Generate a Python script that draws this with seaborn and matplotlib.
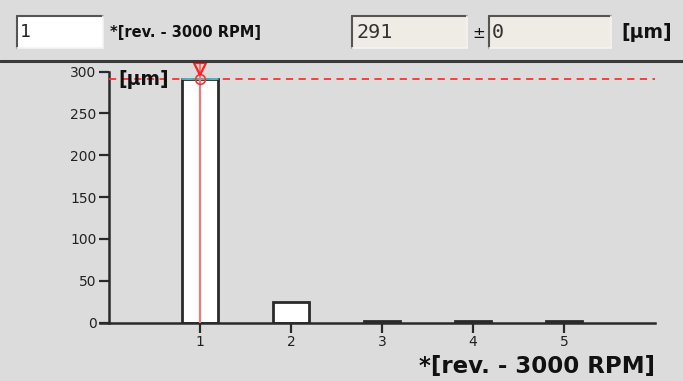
import matplotlib
matplotlib.use("Agg")
import matplotlib.pyplot as plt
import seaborn as sns
import pandas as pd
from matplotlib.patches import Rectangle
from matplotlib.lines import Line2D

# ---- data ----
revolutions = [1, 2, 3, 4, 5]
thickness = [291, 24, 1.5, 1.5, 1.5]
y_ticks = [0, 50, 100, 150, 200, 250, 300]
x_ticks = [1, 2, 3, 4, 5]
selected_rev = 1
selected_value = 291
selected_err = 0
x_label = "*[rev. - 3000 RPM]"
y_unit = "[µm]"

sns.set_theme(style="white")
plt.rcParams['font.family'] = ['DejaVu Sans']

BG = "#dcdcdc"
W, H = 683, 381
fig = plt.figure(figsize=(W / 100, H / 100), dpi=100, facecolor=BG)

def fx(px):
    return px / W

def fy(py):
    return 1 - py / H

# ---- top panel ----
def box(x0, y0, x1, y1, fill):
    fig.patches.append(Rectangle((fx(x0), fy(y1)), fx(x1 - x0), fy(y0) - fy(y1),
                                 transform=fig.transFigure, facecolor=fill,
                                 edgecolor="none", zorder=1))
    fig.lines.append(Line2D([fx(x0), fx(x1)], [fy(y0), fy(y0)], transform=fig.transFigure,
                            color="#555555", lw=1.5, zorder=2))
    fig.lines.append(Line2D([fx(x0), fx(x0)], [fy(y0), fy(y1)], transform=fig.transFigure,
                            color="#555555", lw=1.5, zorder=2))
    fig.lines.append(Line2D([fx(x0), fx(x1)], [fy(y1), fy(y1)], transform=fig.transFigure,
                            color="#f4f4f4", lw=1.2, zorder=2))
    fig.lines.append(Line2D([fx(x1), fx(x1)], [fy(y0), fy(y1)], transform=fig.transFigure,
                            color="#f4f4f4", lw=1.2, zorder=2))

box(17, 16, 103, 48, "white")
box(352, 16, 467, 48, "#efebe5")
box(489, 16, 611, 48, "#efebe5")

fig.text(fx(20), fy(32), str(selected_rev), fontsize=13, va="center", ha="left",
         color="#222222", family="DejaVu Sans Mono")
fig.text(fx(110), fy(33), x_label, fontsize=10.5, fontweight="bold", va="center", ha="left",
         color="#111111")
fig.text(fx(356), fy(32), str(selected_value), fontsize=14.5, va="center", ha="left",
         color="#333333", family="DejaVu Sans Mono")
fig.text(fx(472), fy(33), "±", fontsize=11, va="center", ha="left", color="#111111")
fig.text(fx(492), fy(32), str(selected_err), fontsize=14.5, va="center", ha="left",
         color="#333333", family="DejaVu Sans Mono")
fig.text(fx(621), fy(33), y_unit, fontsize=13.5, fontweight="bold", va="center", ha="left",
         color="#111111")

# separator
fig.lines.append(Line2D([0, 1], [fy(60.5), fy(60.5)], transform=fig.transFigure,
                        color="#3a3a3a", lw=2.2, zorder=3))

# ---- axes ----
ax_top, ax_bot = 62, 322.5
ax_left, ax_right = 100, 655
ax = fig.add_axes([fx(ax_left), fy(ax_bot), fx(ax_right - ax_left), fy(ax_top) - fy(ax_bot)])
ax.set_facecolor(BG)

df = pd.DataFrame({"rev": revolutions, "thickness": thickness})
sns.barplot(data=df, x="rev", y="thickness", native_scale=True, width=0.4,
            color="white", edgecolor="#2a2a2a", linewidth=2, saturation=1,
            ax=ax, zorder=2)

ax.set_xlim(-0.1, 6.0)
ax.set_ylim(0, 311.5)
ax.set_xticks(x_ticks)
ax.set_yticks(y_ticks)
ax.set_xlabel("")
ax.set_ylabel("")

for s in ["top", "right"]:
    ax.spines[s].set_visible(False)
for s in ["left", "bottom"]:
    ax.spines[s].set_color("#2a2a2a")
    ax.spines[s].set_linewidth(1.8)
ax.spines["left"].set_position(("data", 0))
ax.spines["left"].set_bounds(0, 300)
ax.spines["bottom"].set_bounds(-0.1, 6.0)
ax.tick_params(axis="both", direction="out", length=7, width=1.6, color="#2a2a2a",
               labelsize=10, labelcolor="#222222", pad=2, bottom=True, left=True)

# reference lines & cursor
ax.axhline(selected_value, xmin=0.1 / 6.1, color="#ff3030", lw=1.3, ls=(0, (4, 3)), zorder=3)
ax.axvline(selected_rev, color="#f07a7a", lw=1.6, zorder=4)
ax.plot([selected_rev - 0.2, selected_rev + 0.2], [selected_value, selected_value],
        color="#40c8d0", lw=1.2, zorder=3)
ax.plot([selected_rev], [selected_value], marker="o", ms=7, mfc="none", mec="#ff3030",
        mew=1.2, zorder=5, clip_on=False)
ax.plot([selected_rev], [303], marker="v", ms=9, mfc="none", mec="#ff2020",
        mew=1.6, zorder=6, clip_on=False)

ax.text(0.1, 291, y_unit, fontsize=13.5, fontweight="bold", ha="left", va="center",
        color="#111111", zorder=6)

fig.text(fx(655), fy(367), x_label, fontsize=16.5, fontweight="bold", ha="right",
         va="center", color="#111111")

fig.savefig("out.png", dpi=100, facecolor=BG)
